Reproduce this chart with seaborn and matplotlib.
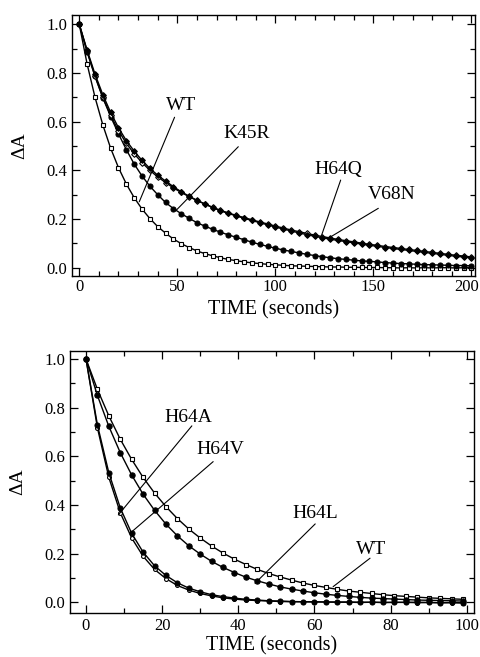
import numpy as np
import pandas as pd
import seaborn as sns
import matplotlib
matplotlib.use("Agg")
import matplotlib.pyplot as plt
from matplotlib.ticker import MultipleLocator
from matplotlib.transforms import ScaledTranslation

# ---------------- data ----------------
# top panel: sampled every 4 s from 0 to 200 s
time_top = list(range(0, 201, 4))
wt_top = [1.000, 0.837, 0.701, 0.587, 0.491, 0.411, 0.344, 0.288, 0.241, 0.202,
          0.169, 0.142, 0.118, 0.099, 0.083, 0.069, 0.058, 0.049, 0.041, 0.034,
          0.029, 0.024, 0.020, 0.017, 0.014, 0.012, 0.010, 0.008, 0.007, 0.006,
          0.005, 0.004, 0.003, 0.003, 0.002, 0.002, 0.001, 0.001, 0.001, 0.000,
          0.000, -0.001, 0.000, -0.001, 0.000, -0.001, 0.000, 0.000, -0.001, 0.000,
          0.000]
k45r_top = [1.000, 0.886, 0.786, 0.698, 0.621, 0.550, 0.485, 0.426, 0.377, 0.335,
            0.300, 0.268, 0.243, 0.222, 0.203, 0.185, 0.171, 0.158, 0.146, 0.135,
            0.125, 0.115, 0.105, 0.096, 0.088, 0.080, 0.073, 0.067, 0.061, 0.055,
            0.050, 0.045, 0.041, 0.037, 0.034, 0.031, 0.028, 0.026, 0.024, 0.021,
            0.019, 0.017, 0.016, 0.014, 0.013, 0.012, 0.011, 0.010, 0.009, 0.009,
            0.008]
h64q_top = [1.000, 0.894, 0.796, 0.711, 0.638, 0.575, 0.522, 0.479, 0.441, 0.408,
            0.380, 0.356, 0.333, 0.312, 0.294, 0.277, 0.262, 0.247, 0.234, 0.223,
            0.213, 0.203, 0.194, 0.185, 0.176, 0.167, 0.159, 0.151, 0.143, 0.136,
            0.129, 0.123, 0.117, 0.112, 0.107, 0.102, 0.097, 0.092, 0.088, 0.083,
            0.079, 0.075, 0.071, 0.067, 0.063, 0.059, 0.055, 0.051, 0.047, 0.044,
            0.040]
v68n_top = [1.000, 0.890, 0.788, 0.700, 0.626, 0.563, 0.511, 0.468, 0.432, 0.400,
            0.373, 0.350, 0.328, 0.309, 0.292, 0.276, 0.262, 0.248, 0.236, 0.225,
            0.215, 0.206, 0.197, 0.188, 0.180, 0.171, 0.163, 0.155, 0.148, 0.141,
            0.134, 0.128, 0.122, 0.116, 0.111, 0.106, 0.101, 0.096, 0.092, 0.087,
            0.083, 0.079, 0.075, 0.071, 0.067, 0.063, 0.059, 0.055, 0.051, 0.048,
            0.044]

# bottom panel: sampled every 3 s from 0 to 99 s
time_bot = list(range(0, 100, 3))
wt_bot = [1.000, 0.875, 0.766, 0.670, 0.587, 0.513, 0.449, 0.393, 0.344, 0.301,
          0.264, 0.231, 0.202, 0.177, 0.155, 0.135, 0.118, 0.104, 0.091, 0.079,
          0.069, 0.061, 0.053, 0.046, 0.041, 0.036, 0.031, 0.027, 0.024, 0.021,
          0.018, 0.016, 0.014, 0.012]
h64l_bot = [1.000, 0.850, 0.723, 0.615, 0.523, 0.444, 0.378, 0.321, 0.273, 0.232,
            0.198, 0.168, 0.143, 0.122, 0.103, 0.088, 0.075, 0.063, 0.054, 0.046,
            0.039, 0.033, 0.028, 0.024, 0.020, 0.017, 0.015, 0.013, 0.011, 0.009,
            0.008, 0.007, 0.006, 0.005]
h64a_bot = [1.000, 0.729, 0.532, 0.388, 0.283, 0.206, 0.150, 0.110, 0.080, 0.058,
            0.043, 0.031, 0.023, 0.017, 0.012, 0.009, 0.006, 0.005, 0.003, 0.002,
            0.002, 0.001, 0.001, 0.001, 0.000, 0.000, -0.001, 0.000, -0.001, 0.000,
            -0.001, -0.002, -0.001, -0.002]
h64v_bot = [1.000, 0.717, 0.513, 0.368, 0.264, 0.189, 0.135, 0.097, 0.069, 0.050,
            0.036, 0.026, 0.018, 0.013, 0.009, 0.007, 0.005, 0.003, 0.002, 0.002,
            0.001, 0.001, 0.000, 0.000, -0.001, 0.000, -0.001, -0.001, 0.000, -0.002,
            -0.001, -0.002, -0.002, -0.003]

x_ticks_top = [0, 50, 100, 150, 200]
x_ticks_bot = [0, 20, 40, 60, 80, 100]
y_ticks = [0.0, 0.2, 0.4, 0.6, 0.8, 1.0]

# ---------------- style ----------------
sns.set_theme(style="ticks")
plt.rcParams["font.family"] = ["Liberation Serif", "DejaVu Serif"]

fig = plt.figure(figsize=(4.81, 6.57), dpi=100)
ax1 = fig.add_axes([72 / 481, 1 - 276 / 657, (475 - 72) / 481, (276 - 15) / 657])
ax2 = fig.add_axes([70 / 481, 1 - 612.7 / 657, (474 - 70) / 481, (612.7 - 350.7) / 657])


def draw(ax, t, y, marker, filled, ms):
    sns.lineplot(x=t, y=y, ax=ax, color="black", lw=1.0, marker=marker,
                 markersize=ms, markerfacecolor="black" if filled else "white",
                 markeredgecolor="black", markeredgewidth=0.8,
                 estimator=None, sort=False, legend=False)


draw(ax1, time_top, wt_top, "s", False, 2.8)
draw(ax1, time_top, k45r_top, "o", True, 3.6)
draw(ax1, time_top, v68n_top, "D", False, 2.9)
draw(ax1, time_top, h64q_top, "D", True, 2.9)

draw(ax2, time_bot, wt_bot, "s", False, 3.0)
draw(ax2, time_bot, h64l_bot, "o", True, 3.8)
draw(ax2, time_bot, h64v_bot, "o", False, 2.8)
draw(ax2, time_bot, h64a_bot, "o", True, 3.6)

ax1.set_xlim(-3.7, 201.8)
ax1.set_ylim(-0.034, 1.038)
ax2.set_xlim(-4.2, 101.9)
ax2.set_ylim(-0.043, 1.034)

ax1.set_xticks(x_ticks_top)
ax2.set_xticks(x_ticks_bot)
ax1.xaxis.set_minor_locator(MultipleLocator(10))
ax2.xaxis.set_minor_locator(MultipleLocator(10))
for ax in (ax1, ax2):
    ax.set_yticks(y_ticks)
    ax.set_yticklabels([f"{v:.1f}" for v in y_ticks])
    ax.yaxis.set_minor_locator(MultipleLocator(0.1))
    ax.tick_params(which="both", direction="in", top=True, right=True,
                   color="black", labelsize=12, labelcolor="black", width=0.9)
    ax.tick_params(which="major", length=6)
    ax.tick_params(which="minor", length=3.5)
    for s in ax.spines.values():
        s.set_color("black")
        s.set_linewidth(1.0)
    ax.set_ylabel("ΔA", fontsize=14, color="black", labelpad=13)

ax1.tick_params(axis="x", pad=2)
ax2.tick_params(axis="x", pad=4)
ax1.set_xlabel("TIME (seconds)", fontsize=14.5, color="black", labelpad=4)
ax2.set_xlabel("TIME (seconds)", fontsize=14.5, color="black", labelpad=1.5)

# nudge the right-most x tick label so it is not clipped by the figure edge
fig.canvas.draw()
lbl = ax1.get_xticklabels()[-1]
lbl.set_transform(lbl.get_transform() + ScaledTranslation(-5 / 100, 0, fig.dpi_scale_trans))

txt_kw = dict(fontsize=14, color="black", ha="center", va="center")
line_kw = dict(color="black", lw=0.8)

# top annotations
for label, tx, ty, x0, y0, x1, y1 in [
    ("WT", 51.9, 0.665, 48.6, 0.618, 30.6, 0.271),
    ("K45R", 85.4, 0.552, 81.1, 0.497, 49.2, 0.234),
    ("H64Q", 132.1, 0.402, 133.3, 0.360, 123.6, 0.134),
    ("V68N", 159.3, 0.299, 152.5, 0.244, 127.0, 0.121),
]:
    ax1.text(tx, ty, label, **txt_kw)
    ax1.plot([x0, x1], [y0, y1], **line_kw)

# bottom annotations
for label, tx, ty, x0, y0, x1, y1 in [
    ("H64A", 26.9, 0.760, 27.8, 0.725, 8.5, 0.359),
    ("H64V", 35.2, 0.626, 33.4, 0.578, 11.6, 0.284),
    ("H64L", 60.2, 0.366, 60.2, 0.322, 44.4, 0.078),
    ("WT", 75.0, 0.215, 74.6, 0.181, 64.9, 0.064),
]:
    ax2.text(tx, ty, label, **txt_kw)
    ax2.plot([x0, x1], [y0, y1], **line_kw)

fig.savefig("out.png", dpi=100)
